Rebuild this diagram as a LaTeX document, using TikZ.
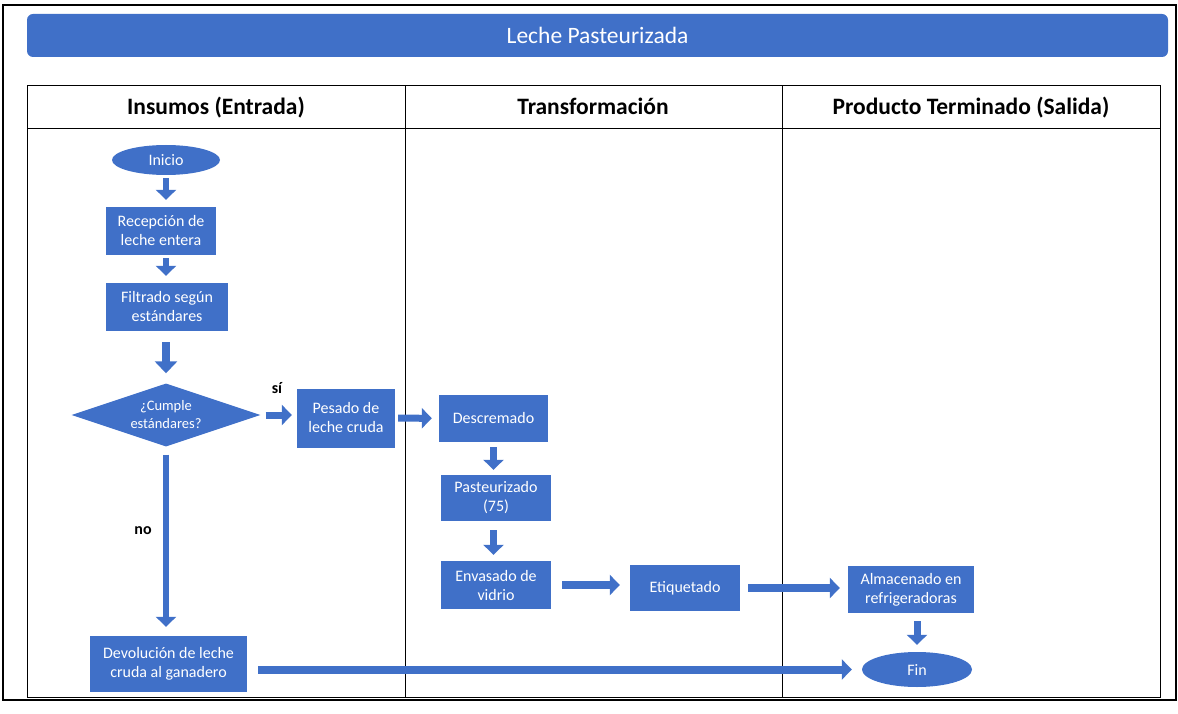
\documentclass[tikz,border=0pt]{standalone}
\usepackage{fontspec}
\setmainfont{Carlito}
\usetikzlibrary{arrows.meta,shapes.geometric}
\definecolor{flowblue}{RGB}{64,112,200}
\begin{document}
\begin{tikzpicture}[x=1pt,y=-1pt,
  box/.style={rectangle, fill=flowblue, draw=none, text=white, align=center,
    inner sep=0pt, font=\fontsize{16}{19}\selectfont},
  term/.style={ellipse, fill=flowblue, draw=none, text=white, inner sep=0pt,
    font=\fontsize{16}{19}\selectfont},
  decide/.style={diamond, fill=flowblue, draw=none, text=white, align=center,
    inner sep=0pt, aspect=3, font=\fontsize{14.5}{18}\selectfont},
  flow/.style={draw=flowblue, line width=7pt, -{Triangle[length=10pt,width=20pt]}},
  head/.style={anchor=base, font=\fontsize{23.5}{26}\selectfont\bfseries},
  tag/.style={font=\fontsize{16}{18}\selectfont\bfseries}]

\useasboundingbox (0,0) rectangle (1178,714);

% outer frame
\draw[line width=1.2pt] (3,5) rectangle (1176,700);

% title banner
\node[fill=flowblue, rounded corners=6pt, minimum width=1141pt, minimum height=43pt,
  inner sep=0pt, text=white, font=\fontsize{23.5}{26}\selectfont] (title) at (597.5,35.5)
  {Leche Pasteurizada};

% swimlane table
\draw[line width=1pt] (27,86) rectangle (1160,697);
\draw[line width=1pt] (27,129) -- (1160,129);
\draw[line width=1pt] (405,86) -- (405,697);
\draw[line width=1pt] (782,86) -- (782,697);
\node[head] (h1) at (216,115) {Insumos (Entrada)};
\node[head] (h2) at (593,115) {Transformación};
\node[head] (h3) at (971,115) {Producto Terminado (Salida)};

% steps
\node[term, minimum width=108pt, minimum height=30pt] (inicio) at (166,160) {Inicio};
\node[box, minimum width=110pt, minimum height=48pt] (recep) at (161,231) {Recepción de\\leche entera};
\node[box, minimum width=122pt, minimum height=48pt] (filtr) at (167,307) {Filtrado según\\estándares};
\node[decide, minimum width=189pt, minimum height=63pt] (cumple) at (166,415) {¿Cumple\\estándares?};
\node[box, minimum width=98pt, minimum height=59pt] (pesado) at (346,418) {Pesado de\\leche cruda};
\node[box, minimum width=109pt, minimum height=47pt] (descr) at (493.5,418.5) {Descremado};
\node[box, minimum width=110pt, minimum height=46pt] (paste) at (496,498) {Pasteurizado\\(75)};
\node[box, minimum width=110pt, minimum height=48pt] (envas) at (496,585) {Envasado de\\vidrio};
\node[box, minimum width=110pt, minimum height=46pt] (etiq) at (685,588) {Etiquetado};
\node[box, minimum width=126pt, minimum height=47pt] (almac) at (911,589.5) {Almacenado en\\refrigeradoras};
\node[term, minimum width=110pt, minimum height=35pt] (fin) at (917,669.5) {Fin};
\node[box, minimum width=157pt, minimum height=56pt] (devol) at (168.5,664) {Devolución de leche\\cruda al ganadero};

% connectors
\draw[flow, line width=6pt, shorten <=3pt, shorten >=7pt] (inicio) -- (recep.north -| inicio);
\draw[flow, line width=6pt, shorten <=3pt, shorten >=7pt] (recep.south -| inicio) -- (filtr.north -| inicio);
\draw[flow, line width=8pt, -{Triangle[length=12pt,width=22pt]}, shorten <=11pt, shorten >=10pt] (filtr.south -| inicio) -- (cumple.north);
\draw[flow, shorten <=5pt, shorten >=5pt] (cumple.east) -- (cumple.east -| pesado.west);
\node[tag] (si) at (277,388) {sí};
\draw[flow, shorten <=3pt, shorten >=7pt] (pesado) -- (descr);
\draw[flow, shorten <=5pt, shorten >=5pt] (descr) -- (descr |- paste.north);
\draw[flow, shorten <=9pt, shorten >=6pt] (paste.south -| descr) -- (envas.north -| descr);
\draw[flow, line width=8pt, shorten <=11pt, shorten >=10pt] (envas) -- (envas -| etiq.west);
\draw[flow, line width=8pt, shorten <=8pt, shorten >=8pt] (etiq) -- (etiq -| almac.west);
\draw[flow, shorten <=8pt, shorten >=7pt] (fin |- almac.south) -- (fin);
\draw[flow, line width=6pt, shorten <=8pt, shorten >=9pt] (cumple) -- (cumple |- devol.north);
\node[tag] (no) at (143,531) {no};
\draw[flow, line width=8pt, shorten <=11pt, shorten >=10pt] (devol.east |- fin) -- (fin);
\end{tikzpicture}
\end{document}
